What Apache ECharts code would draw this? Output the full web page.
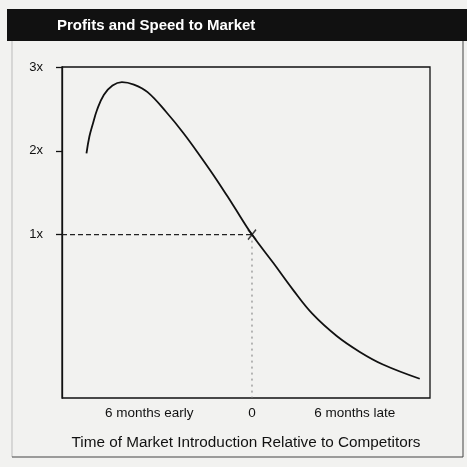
<!DOCTYPE html>
<html>
<head>
<meta charset="utf-8">
<script src="https://cdn.jsdelivr.net/npm/echarts@6/dist/echarts.min.js"></script>
<style>
  html, body { margin: 0; padding: 0; background: #f2f2f0; }
  #chart { width: 467px; height: 467px; }
</style>
</head>
<body>
<div id="chart"></div>
<script>
// months relative to competitors (negative = early)
const xMonths = [-9.67, -9.5, -9.3, -9.05, -8.65, -8.15, -7.6, -6.9, -6.1, -5.0, -4.0, -3.0, -2.05, -1.1, 0, 1.25, 2.4, 3.55, 4.95, 6.3, 7.65, 9.8]
// profit multiple
const profit = [1.97, 2.17, 2.32, 2.49, 2.67, 2.78, 2.82, 2.79, 2.70, 2.46, 2.21, 1.93, 1.65, 1.35, 1.0, 0.66, 0.34, 0.05, -0.21, -0.40, -0.55, -0.72]
const xTickValues = [-6, 0, 6]
const xTickLabels = ['6 months early', '0', '6 months late']
const yTickValues = [1, 2, 3]
const yTickLabels = ['1x', '2x', '3x']
const refPoint = [0, 1]

const xMin = -11.1
const xMax = 10.4
const yMin = -0.95
const yMax = 3

const font = "'Liberation Sans', Arial, Helvetica, sans-serif"

const curve = xMonths.map((x, i) => [x, profit[i]])

const chart = echarts.init(document.getElementById('chart'))
const option = {
  backgroundColor: '#f2f2f0',
  animation: false,
  graphic: [
    // black title bar
    { type: 'rect', z: 0, shape: { x: 7, y: 9, width: 460, height: 32 }, style: { fill: '#111' } },
    // outer frame
    { type: 'line', shape: { x1: 12, y1: 41, x2: 12, y2: 457 }, style: { stroke: '#bbb', lineWidth: 1 } },
    { type: 'line', shape: { x1: 463, y1: 41, x2: 463, y2: 457 }, style: { stroke: '#444', lineWidth: 1 } },
    { type: 'line', shape: { x1: 12, y1: 457, x2: 463, y2: 457 }, style: { stroke: '#444', lineWidth: 1.2 } }
  ],
  title: {
    text: 'Profits and Speed to Market',
    left: 57,
    top: 18,
    padding: 0,
    textStyle: { color: '#fff', fontSize: 15, fontWeight: 'bold', fontFamily: font }
  },
  grid: {
    left: 62,
    right: 37,
    top: 67,
    bottom: 69,
    show: true,
    borderColor: '#111',
    borderWidth: 1.3,
    backgroundColor: 'transparent'
  },
  xAxis: {
    type: 'value',
    min: xMin,
    max: xMax,
    name: 'Time of Market Introduction Relative to Competitors',
    nameLocation: 'middle',
    nameGap: 37,
    nameTextStyle: { color: '#111', fontSize: 15.3, fontFamily: font },
    axisLine: { show: false },
    axisTick: { show: false },
    splitLine: { show: false },
    axisLabel: {
      customValues: xTickValues,
      formatter: v => xTickLabels[xTickValues.indexOf(v)],
      color: '#111',
      fontSize: 13.5,
      fontFamily: font,
      margin: 8
    }
  },
  yAxis: {
    type: 'value',
    min: yMin,
    max: yMax,
    axisLine: { show: true, onZero: false, lineStyle: { color: '#111', width: 1.3 } },
    axisTick: { show: true, customValues: yTickValues, length: 6, lineStyle: { color: '#111', width: 1.3 } },
    splitLine: { show: false },
    axisLabel: {
      customValues: yTickValues,
      formatter: v => yTickLabels[yTickValues.indexOf(v)],
      color: '#111',
      fontSize: 13,
      fontFamily: font,
      margin: 19
    }
  },
  series: [
    {
      type: 'line',
      data: [[xMin, refPoint[1]], refPoint],
      symbol: 'none',
      lineStyle: { color: '#222', width: 1.3, type: [5, 3] },
      silent: true
    },
    {
      type: 'line',
      data: [refPoint, [refPoint[0], yMin]],
      symbol: 'none',
      lineStyle: { color: '#777', width: 1, type: [2, 4] },
      silent: true
    },
    {
      type: 'line',
      data: curve,
      smooth: 0.4,
      symbol: 'none',
      lineStyle: { color: '#111', width: 1.8 },
      z: 3
    },
    {
      type: 'scatter',
      data: [refPoint],
      symbol: 'path://M0,0L10,12M10,0L0,12',
      symbolSize: [8, 10],
      itemStyle: { color: 'none', borderColor: '#111', borderWidth: 1.6 },
      z: 4
    }
  ]
}
chart.setOption(option)
</script>
</body>
</html>
